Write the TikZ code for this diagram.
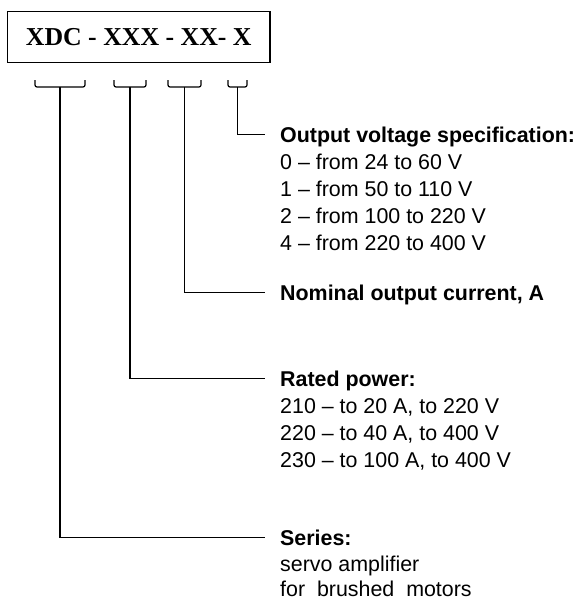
\documentclass[tikz,border=0pt]{standalone}
\usepackage{fontspec}
\setmainfont{Liberation Sans}
\newfontfamily\codefont{Liberation Serif}
\usetikzlibrary{positioning}

\tikzset{
  title/.style={font=\fontsize{21.4}{27}\selectfont\bfseries, anchor=base west,
    inner xsep=15pt, inner ysep=0pt, text height=15.3pt, text depth=0pt},
  item/.style={font=\fontsize{21.4}{27}\selectfont, anchor=base west, inner sep=0pt},
  leader/.style={line width=1.6pt},
  brace/.style={line width=1.2pt, rounded corners=2pt},
}

\begin{document}
\begin{tikzpicture}[x=1pt,y=-1pt]
    \useasboundingbox (0,0) rectangle (576,602);
    % type code
    \node[draw, line width=1.1pt, minimum width=262.5pt, minimum height=50.5pt, inner sep=0pt,
      font=\codefont\bfseries\fontsize{25.8}{30}\selectfont] (code) at (138.75,37) {XDC - XXX - XX- X};
    % brackets under the fields
    \foreach \c/\w [count=\i] in {60/25, 130/16, 184.5/16.5, 237.5/9.5} {
        \draw[brace] (\c-\w,80) -- (\c-\w,87) -- (\c+\w,87) -- (\c+\w,80);
        \coordinate (b\i) at (\c,87);
    }
    % descriptions
    \node[title] (voltage) at (265,142) {Output voltage specification:};
    \foreach \t [count=\i] in {0 -- from 24 to 60 V, 1 -- from 50 to 110 V,
                              2 -- from 100 to 220 V, 4 -- from 220 to 400 V}
        \node[item] (v\i) at (280,{142+27*\i}) {\t};
    \node[title] (current) at (265,300) {Nominal output current, A};
    \node[title] (power) at (265,386) {Rated power:};
    \foreach \t [count=\i] in {{210 -- to 20 A, to 220 V}, {220 -- to 40 A, to 400 V},
                              {230 -- to 100 A, to 400 V}}
        \node[item] (p\i) at (280,{386+27*\i}) {\t};
    \node[title] (series) at (265,545) {Series:};
    \node[item] (s1) at (280,571) {servo amplifier};
    \node[item] (s2) at (280,596) {for \ brushed \ motors};
    % leaders
    \draw[leader] (b4) |- (voltage.west);
    \draw[leader] (b3) |- (current.west);
    \draw[leader] (b2) |- (power.west);
    \draw[leader] (b1) |- (series.west);
\end{tikzpicture}
\end{document}
